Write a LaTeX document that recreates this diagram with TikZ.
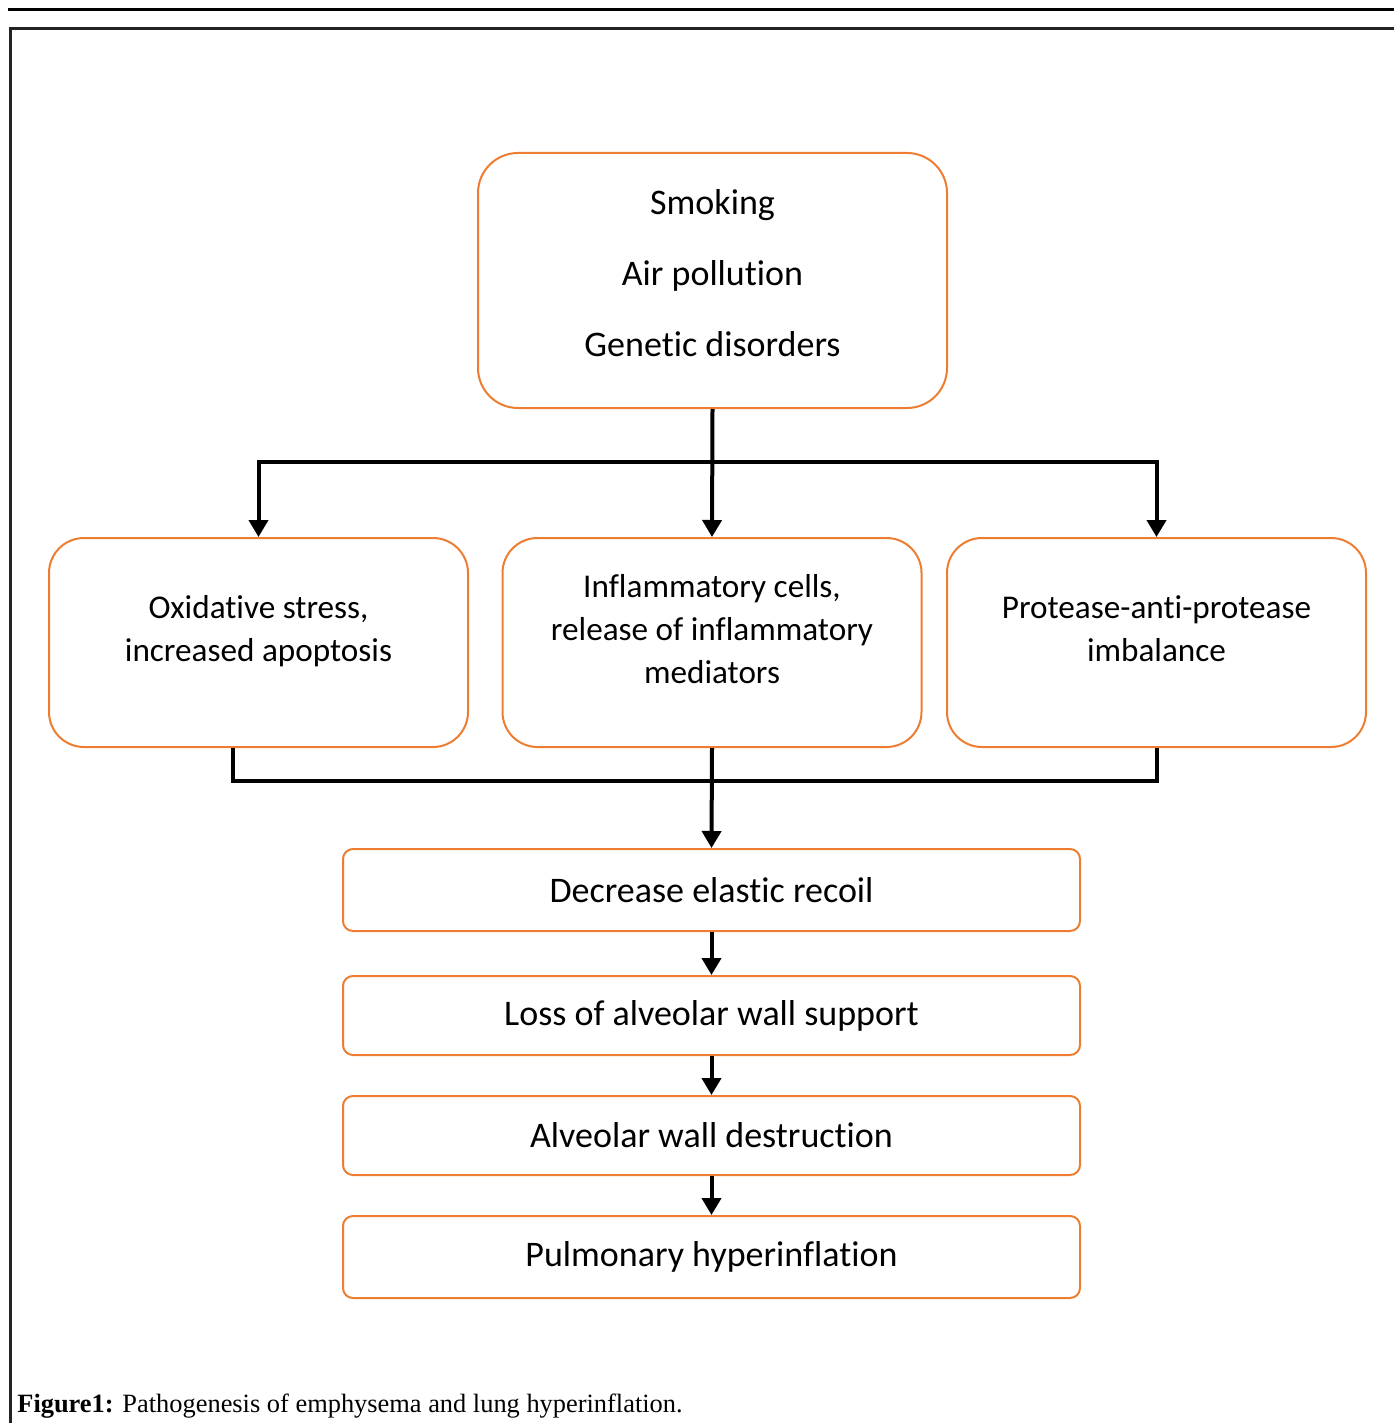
\documentclass[tikz,border=0pt]{standalone}
\usepackage{fontspec}
\setmainfont{Carlito}[Ligatures={NoCommon}]
\newfontfamily\capfont{Liberation Serif}
\usetikzlibrary{arrows.meta}
\definecolor{boxorange}{RGB}{237,125,49}
\definecolor{framegray}{RGB}{35,35,35}

\tikzset{
  causebox/.style={draw=boxorange, line width=1pt, rounded corners=20pt, minimum width=234.5pt, minimum height=127.5pt, align=center, text depth=7pt, font=\fontsize{18}{35.5}\selectfont},
  mechbox/.style={draw=boxorange, line width=1pt, rounded corners=17.5pt, minimum width=209.5pt, minimum height=104.5pt, align=center, text depth=14pt, font=\fontsize{16.6}{21.5}\selectfont},
  stepbox/.style={draw=boxorange, line width=1pt, rounded corners=5pt, minimum width=368.5pt, font=\fontsize{18}{22}\selectfont},
  link/.style={line width=2pt, -{Triangle[width=9.5pt,length=8.5pt]}},
  bar/.style={line width=2pt}
}

\begin{document}
\begin{tikzpicture}[x=0.5pt, y=-0.5pt]
  \useasboundingbox (0,0) rectangle (1394,1423);
  \draw[line width=1.5pt, black]      (8,10) -- (1394,10);
  \draw[line width=1.5pt, framegray]  (1394,29) -- (10,29) -- (10,1423);

  \node[causebox] (src)   at (712.5, 280.5) {Smoking\\Air pollution\\Genetic disorders};
  \node[mechbox]  (oxi)   at (258.5, 642.5) {Oxidative stress,\\increased apoptosis};
  \node[mechbox]  (infl)  at (712.0, 642.5) {Inflammatory cells,\\release of inflammatory\\mediators};
  \node[mechbox]  (prot)  at (1156.5,642.5) {Protease-anti-protease\\imbalance};
  \node[stepbox, minimum height=41pt]   (rec)   at (711.5, 890.0) {Decrease elastic recoil};
  \node[stepbox, minimum height=39.5pt] (loss)  at (711.5,1015.5) {Loss of alveolar wall support};
  \node[stepbox, minimum height=39.5pt] (destr) at (711.5,1135.5) {Alveolar wall destruction};
  \node[stepbox, minimum height=41pt]   (hyper) at (711.5,1257.0) {Pulmonary hyperinflation};

  \coordinate (fork) at (712,462);
  \coordinate (join) at (712,781);
  \draw[link] (src.south) -- (infl.north);
  \draw[link] (fork) -| (oxi.north);
  \draw[link] (fork) -| (prot.north);
  \draw[bar]  ([xshift=-13pt]oxi.south) |- (join) -| (prot.south);
  \draw[link] (infl.south) -- (rec.north);
  \draw[link] (rec.south) -- (loss.north);
  \draw[link] (loss.south) -- (destr.north);
  \draw[link] (destr.south) -- (hyper.north);

  \node[anchor=base west, inner sep=0pt, font=\capfont\fontsize{13.2}{15}\selectfont] (cap) at (17,1412) {\textbf{Figure1:} Pathogenesis of emphysema and lung hyperinflation.};
\end{tikzpicture}
\end{document}
